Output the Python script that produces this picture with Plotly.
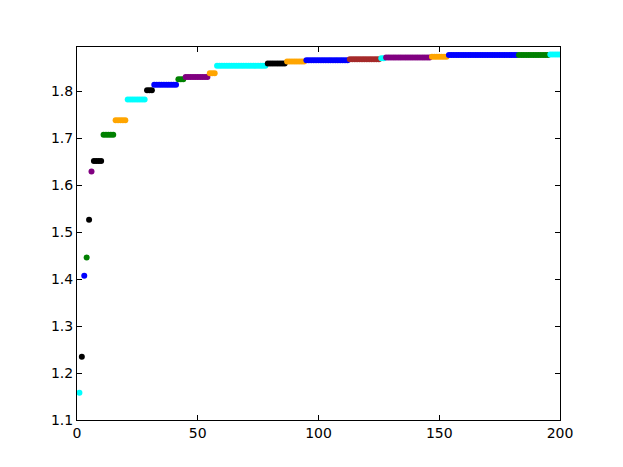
import plotly.graph_objects as go

# ---------------- DATA ----------------
# each run: first x, last x, y value, colour
run_start = [1, 2, 3, 4, 5, 6, 7, 11, 16, 21, 29, 32, 42, 45, 55, 58, 79, 87,
             95, 113, 126, 128, 147, 154, 183, 196]
run_end = [1, 2, 3, 4, 5, 6, 10, 15, 20, 28, 31, 41, 44, 54, 57, 78, 86, 94,
           112, 125, 127, 146, 153, 182, 195, 200]
run_y = [1.158, 1.235, 1.4074, 1.4464, 1.5267, 1.6296, 1.6518, 1.7078, 1.739,
         1.783, 1.803, 1.8143, 1.8265, 1.8313, 1.8392, 1.8548, 1.8597, 1.864,
         1.8669, 1.869, 1.871, 1.8725, 1.874, 1.8777, 1.8782, 1.879]
run_color = ["cyan", "black", "blue", "green", "black", "purple", "black",
             "green", "orange", "cyan", "black", "blue", "green", "purple",
             "orange", "cyan", "black", "orange", "blue", "brown", "cyan",
             "purple", "orange", "blue", "green", "cyan"]

x_ticks = [0, 50, 100, 150, 200]
y_ticks = [1.1, 1.2, 1.3, 1.4, 1.5, 1.6, 1.7, 1.8]

# ---------------- FIGURE ----------------
fig = go.Figure()
for s, e, y, c in zip(run_start, run_end, run_y, run_color):
    xs = list(range(s, e + 1))
    fig.add_trace(go.Scatter(
        x=xs, y=[y] * len(xs), mode="markers",
        marker=dict(color=c, size=6, line=dict(width=0)),
        showlegend=False, cliponaxis=True,
    ))

axis_style = dict(
    showgrid=False, zeroline=False, showline=True, linecolor="black",
    linewidth=1, mirror="allticks", ticks="inside", ticklen=5,
    tickcolor="black", tickfont=dict(family="DejaVu Sans", size=14, color="black"),
)

fig.update_layout(
    width=623, height=467,
    plot_bgcolor="white", paper_bgcolor="white",
    margin=dict(l=69, r=71, t=39, b=55),   # page body adds ~8px offset
    xaxis=dict(range=[0, 200], tickvals=x_ticks, **axis_style),
    yaxis=dict(range=[1.1, 1.895], tickvals=y_ticks, tickformat=".1f", **axis_style),
)

fig.write_html("out.html")
